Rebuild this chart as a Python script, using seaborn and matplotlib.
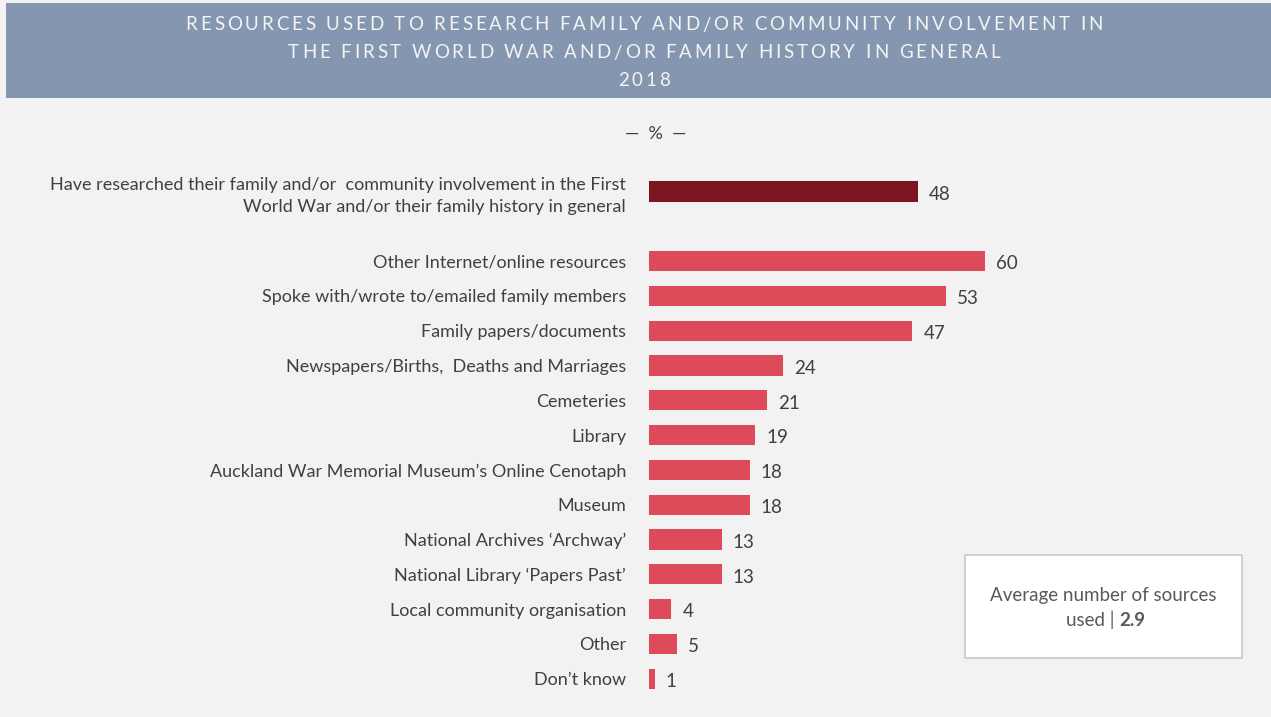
import matplotlib
matplotlib.use("Agg")
import matplotlib.pyplot as plt
import matplotlib.patches as mpatches
from matplotlib.font_manager import FontProperties
import seaborn as sns
import pandas as pd

# Data
headline_label = ("Have researched their family and/or  community involvement in the First\n"
                  "World War and/or their family history in general")
headline_value = 48

categories = [
    "Other Internet/online resources",
    "Spoke with/wrote to/emailed family members",
    "Family papers/documents",
    "Newspapers/Births,  Deaths and Marriages",
    "Cemeteries",
    "Library",
    "Auckland War Memorial Museum\u2019s Online Cenotaph",
    "Museum",
    "National Archives \u2018Archway\u2019",
    "National Library \u2018Papers Past\u2019",
    "Local community organisation",
    "Other",
    "Don\u2019t know",
]
values = [60, 53, 47, 24, 21, 19, 18, 18, 13, 13, 4, 5, 1]

title_lines = [
    "RESOURCES USED TO RESEARCH FAMILY AND/OR COMMUNITY INVOLVEMENT IN",
    "THE FIRST WORLD WAR AND/OR FAMILY HISTORY IN GENERAL",
    "2018",
]
avg_sources = 2.9

# Colours
BG = "#f2f2f2"
HEADER = "#8596b0"
DARK = "#7b1520"
RED = "#dd4a5a"
TEXT = "#404040"
BOX_TEXT = "#595959"

sns.set_theme(style="white")
plt.rcParams["font.family"] = ["Lato", "DejaVu Sans"]

W, H = 1271, 717
fig = plt.figure(figsize=(W / 100, H / 100), dpi=100, facecolor=BG)

spacer = " "
order = [headline_label, spacer] + categories
df = pd.DataFrame({
    "label": [headline_label] + categories,
    "value": [headline_value] + values,
    "group": ["headline"] + ["source"] * len(categories),
})

# axes: bar origin at x=649px, 5.6px per percentage point; rows 34.8px apart
row_px = 34.8
top_px = 191.5 - 0.5 * row_px
bot_px = 191.5 + 14.5 * row_px
x0_px = 649
xmax = 100
ax = fig.add_axes([x0_px / W, 1 - bot_px / H, xmax * 5.6 / W, (bot_px - top_px) / H])
ax.set_facecolor("none")

sns.barplot(data=df, y="label", x="value", hue="group", order=order,
            palette={"headline": DARK, "source": RED}, orient="h",
            width=0.58, legend=False, ax=ax, saturation=1, linewidth=0)

ax.set_xlim(0, xmax)
ax.set_ylim(len(order) - 0.5, -0.5)
ax.set_xlabel("")
ax.set_ylabel("")
ax.set_xticks([])
ax.tick_params(axis="y", length=0, pad=16.5, labelsize=13, labelcolor=TEXT)
for lab in ax.get_yticklabels():
    lab.set_horizontalalignment("right")
    lab.set_multialignment("right")
    lab.set_linespacing(1.45)
for s in ax.spines.values():
    s.set_visible(False)

for cont in ax.containers:
    for t in ax.bar_label(cont, fmt="%g", padding=8, fontsize=13.5, color=TEXT):
        t.xyann = (t.xyann[0], -2)

# header band
fig.patches.append(mpatches.Rectangle((6 / W, 1 - 98 / H), 1 - 6 / W, 95 / H,
                                      transform=fig.transFigure, facecolor=HEADER,
                                      edgecolor="none", zorder=0))

# letter-spaced title
renderer = fig.canvas.get_renderer()
title_prop = FontProperties(family=["Lato", "DejaVu Sans"], size=13.5)


def text_width(s):
    # ink width of s with a trailing sentinel, so trailing spaces still count
    w_s, _, _ = renderer.get_text_width_height_descent(s + "I", title_prop, ismath=False)
    w_i, _, _ = renderer.get_text_width_height_descent("I", title_prop, ismath=False)
    return w_s - w_i


first_natural = text_width(title_lines[0][:-1]) + text_width(title_lines[0][-1])
tracking = (917 - first_natural) / (len(title_lines[0]) - 1)
for ypx, line in zip([25, 53, 80], title_lines):
    offsets = [text_width(line[:i]) + i * tracking for i in range(len(line))]
    total = offsets[-1] + text_width(line[-1])
    start = 644 - total / 2
    for ch, off in zip(line, offsets):
        if ch == " ":
            continue
        fig.text((start + off) / W, 1 - ypx / H, ch, ha="left", va="center",
                 color="#f4f4f4", fontproperties=title_prop)

fig.text(656 / W, 1 - 134 / H, "\u2014  %  \u2014", ha="center", va="center",
         color=TEXT, fontsize=13)

# average sources box
fig.patches.append(mpatches.Rectangle((965 / W, 1 - 658 / H), 277 / W, 103 / H,
                                      transform=fig.transFigure, facecolor="white",
                                      edgecolor="#c8c8c8", linewidth=1.2, zorder=1))
fig.text(1103 / W, 1 - 595 / H, "Average number of sources", ha="center", va="center",
         color=BOX_TEXT, fontsize=13.5, zorder=2)
fig.text(1115 / W, 1 - 620 / H, "used |", ha="right", va="center",
         color=BOX_TEXT, fontsize=13.5, zorder=2)
fig.text(1119 / W, 1 - 620 / H, f"{avg_sources:g}", ha="left", va="center",
         color=BOX_TEXT, fontsize=13.5, fontweight="bold", zorder=2)

fig.savefig("out.png", dpi=100, facecolor=BG)
